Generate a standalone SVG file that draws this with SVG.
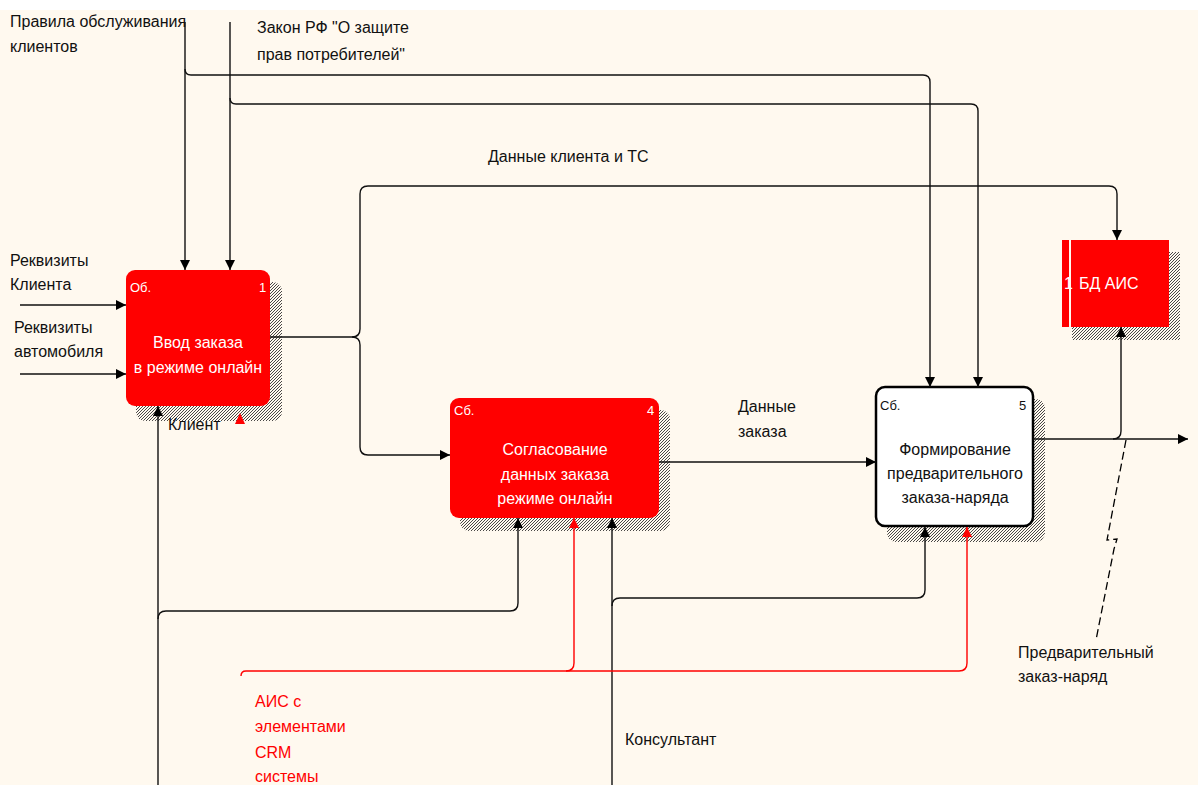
<svg xmlns="http://www.w3.org/2000/svg" width="1198" height="785" viewBox="0 0 1198 785">
<style>
.lbl{font-family:"Liberation Sans",Arial,sans-serif;font-size:16px;fill:#111}
.wt{font-family:"Liberation Sans",Arial,sans-serif;font-size:16px;fill:#fff}
.sm{font-family:"Liberation Sans",Arial,sans-serif;font-size:13px}
.red{font-family:"Liberation Sans",Arial,sans-serif;font-size:16px;fill:#f00}
.ln{fill:none;stroke:#111;stroke-width:1.4}
.rl{fill:none;stroke:#f00;stroke-width:1.4}
</style>
<defs>
<pattern id="hatch" width="3" height="3" patternUnits="userSpaceOnUse">
<rect width="3" height="3" fill="#fff9ef"/>
<path d="M0,3 L3,0" stroke="#333" stroke-width="0.9"/>
</pattern>
<marker id="ab" viewBox="0 0 10 10" refX="10" refY="5" markerWidth="12" markerHeight="10" markerUnits="userSpaceOnUse" orient="auto">
<path d="M0,0 L10,5 L0,10 z" fill="#000"/>
</marker>
<marker id="ar" viewBox="0 0 10 10" refX="10" refY="5" markerWidth="12" markerHeight="10" markerUnits="userSpaceOnUse" orient="auto">
<path d="M0,0 L10,5 L0,10 z" fill="#f00"/>
</marker>
</defs>
<rect width="1198" height="785" fill="#fff9ef"/>
<rect width="1198" height="10" fill="#ffffff"/>

<g id="node1">
<rect x="136" y="282" width="146" height="139" rx="9" fill="url(#hatch)"/>
<rect x="126" y="270" width="144" height="136" rx="9" fill="#f00"/>
<text class="sm" x="130" y="292" fill="#fff">Об.</text>
<text class="sm" x="259" y="292" fill="#fff">1</text>
<text class="wt" x="198" y="348" text-anchor="middle">Ввод заказа</text>
<text class="wt" x="198" y="373" text-anchor="middle">в режиме онлайн</text>
</g>

<g id="node4">
<rect x="460" y="410" width="210" height="121" rx="9" fill="url(#hatch)"/>
<rect x="450" y="398" width="209" height="120" rx="9" fill="#f00"/>
<text class="sm" x="454" y="415" fill="#fff">Сб.</text>
<text class="sm" x="647" y="415" fill="#fff">4</text>
<text class="wt" x="555" y="455" text-anchor="middle">Согласование</text>
<text class="wt" x="555" y="480" text-anchor="middle">данных заказа</text>
<text class="wt" x="555" y="504" text-anchor="middle">режиме онлайн</text>
</g>

<g id="node5">
<rect x="887" y="399" width="158" height="143" rx="9" fill="url(#hatch)"/>
<rect x="876" y="387" width="157" height="139" rx="9" fill="#fff" stroke="#000" stroke-width="2.5"/>
<text class="sm" x="880" y="410" fill="#111">Сб.</text>
<text class="sm" x="1019" y="410" fill="#111">5</text>
<text class="lbl" x="955" y="455" text-anchor="middle">Формирование</text>
<text class="lbl" x="955" y="479" text-anchor="middle">предварительного</text>
<text class="lbl" x="955" y="503" text-anchor="middle">заказа-наряда</text>
</g>

<g id="node-bd">
<rect x="1072" y="252" width="108" height="88" fill="url(#hatch)"/>
<rect x="1062" y="240" width="7" height="87" fill="#f00"/>
<rect x="1071" y="240" width="98" height="87" fill="#f00"/>
<text class="wt" x="1064" y="289" font-size="14">1</text>
<text class="wt" x="1079" y="289">БД АИС</text>
</g>

<g id="connectors">
<path class="ln" d="M185,22 V270" marker-end="url(#ab)"/>
<path class="ln" d="M185,69 Q185,75 191,75 H923 Q930,75 930,82 V387" marker-end="url(#ab)"/>
<path class="ln" d="M230,22 V270" marker-end="url(#ab)"/>
<path class="ln" d="M230,98 Q230,104 236,104 H971 Q978,104 978,111 V387" marker-end="url(#ab)"/>
<path class="ln" d="M20,305 H126" marker-end="url(#ab)"/>
<path class="ln" d="M20,374 H126" marker-end="url(#ab)"/>
<path class="ln" d="M270,337 H352 Q360,337 360,329 V194 Q360,186 368,186 H1109 Q1117,186 1117,194 V240" marker-end="url(#ab)"/>
<path class="ln" d="M352,337 Q360,337 360,345 V447 Q360,455 368,455 H450" marker-end="url(#ab)"/>
<path class="ln" d="M659,462 H876" marker-end="url(#ab)"/>
<path class="ln" d="M1033,439 H1188" marker-end="url(#ab)"/>
<path class="ln" d="M1113,439 Q1121,439 1121,431 V327" marker-end="url(#ab)"/>
<path class="ln" d="M158,785 V406" marker-end="url(#ab)"/>
<path class="ln" d="M158,619 Q158,611 166,611 H510 Q518,611 518,603 V518" marker-end="url(#ab)"/>
<path class="ln" d="M612,785 V518" marker-end="url(#ab)"/>
<path class="ln" d="M612,606 Q612,598 620,598 H917 Q925,598 925,590 V527" marker-end="url(#ab)"/>
<path class="rl" d="M241,676 Q241,671 246,671 H566 Q574,671 574,663 V518" marker-end="url(#ar)"/>
<path class="rl" d="M566,671 H959 Q967,671 967,663 V527" marker-end="url(#ar)"/>
<path d="M1126,440 L1107,540 L1117,539 L1114,549 L1096,640" fill="none" stroke="#000" stroke-width="1.3" stroke-dasharray="8,4"/>
<polygon points="240,413 235,424 245,424" fill="#f00"/>
</g>

<g id="labels">
<text class="lbl" x="10" y="27">Правила обслуживания</text>
<text class="lbl" x="10" y="52">клиентов</text>
<text class="lbl" x="257" y="33">Закон РФ "О защите</text>
<text class="lbl" x="257" y="60">прав потребителей"</text>
<text class="lbl" x="488" y="162">Данные клиента и ТС</text>
<text class="lbl" x="10" y="266">Реквизиты</text>
<text class="lbl" x="10" y="290">Клиента</text>
<text class="lbl" x="14" y="333">Реквизиты</text>
<text class="lbl" x="14" y="357">автомобиля</text>
<text class="lbl" x="168" y="430">Клиент</text>
<text class="lbl" x="738" y="412">Данные</text>
<text class="lbl" x="738" y="437">заказа</text>
<text class="lbl" x="1018" y="658">Предварительный</text>
<text class="lbl" x="1018" y="682">заказ-наряд</text>
<text class="red" x="255" y="707">АИС с</text>
<text class="red" x="255" y="732">элементами</text>
<text class="red" x="255" y="758">CRM</text>
<text class="red" x="255" y="782">системы</text>
<text class="lbl" x="625" y="745">Консультант</text>
</g>
</svg>
